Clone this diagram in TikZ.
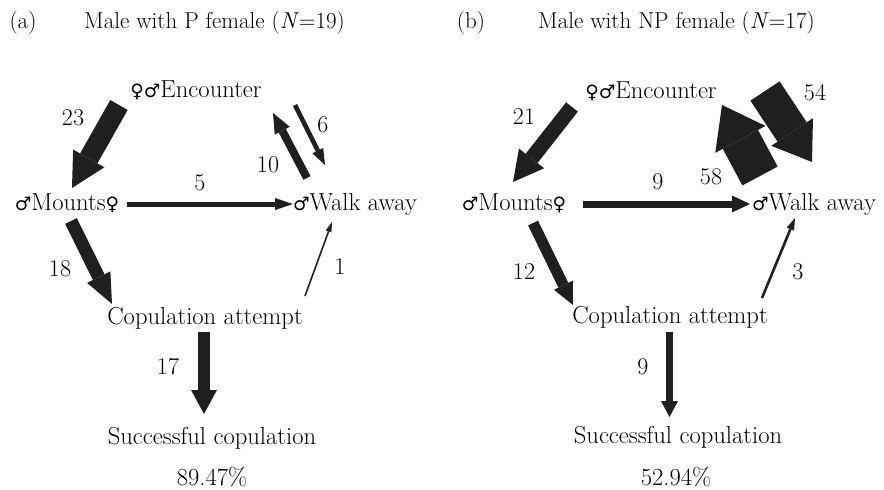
\documentclass[tikz,border=0pt]{standalone}
\usepackage{fontspec}
\newfontfamily\symfont{DejaVu Sans}
\usetikzlibrary{arrows.meta}
% sex symbols, set a little smaller than the text
\newcommand\fem{{\symfont\fontsize{18.5}{18.5}\selectfont ♀}}
\newcommand\mal{{\symfont\fontsize{18.5}{18.5}\selectfont ♂}}

\begin{document}
\begin{tikzpicture}[x=1pt,y=-1pt,
  lbl/.style={font=\fontsize{24.6}{28}\selectfont, inner sep=0pt, anchor=base},
  num/.style={font=\fontsize{24}{28}\selectfont, inner sep=0pt},
  hdr/.style={font=\fontsize{23}{26}\selectfont, inner sep=0pt, anchor=base west},
  tag/.style={font=\fontsize{23}{26}\selectfont, inner sep=0pt, anchor=base},
  flow/.style n args={3}{draw=black!88, line width=#1,
    -{Triangle[width=#2, length=#3, line width=0pt]}}
]
\useasboundingbox (0,0) rectangle (884,490);

% ---------------- panel (a) ----------------
\node[tag] (atag) at (23,28) {(a)};
\node[hdr] (ahdr) at (84,28) {Male with P female (\textit{N}=19)};

\node[lbl] (aenc)  at (196,97)  {\fem\mal Encounter};
\node[lbl] (amnt)  at (67,210)  {\mal Mounts\fem};
\node[lbl] (awalk) at (355,210) {\mal Walk away};
\node[lbl] (acop)  at (205,324) {Copulation attempt};
\node[lbl] (asuc)  at (212,444) {Successful copulation};
\node[lbl] (apct)  at (212,485) {89.47\%};

\coordinate (a-em-s) at (119,105);  \coordinate (a-em-e) at (72,188);
\coordinate (a-mc-s) at (71,221);   \coordinate (a-mc-e) at (112,304);
\coordinate (a-mw-s) at (127,204);  \coordinate (a-mw-e) at (293,204);
\coordinate (a-we-s) at (307,178);  \coordinate (a-we-e) at (273,113);
\coordinate (a-ew-s) at (295,105);  \coordinate (a-ew-e) at (325,165);
\coordinate (a-cw-s) at (305,296);  \coordinate (a-cw-e) at (332,222);
\coordinate (a-cs-s) at (204,332);  \coordinate (a-cs-e) at (204,414);

\draw[flow={20pt}{36pt}{34pt}] (a-em-s) -- (a-em-e);
\draw[flow={13pt}{26pt}{30pt}] (a-mc-s) -- (a-mc-e);
\draw[flow={5pt}{12pt}{18pt}]  (a-mw-s) -- (a-mw-e);
\draw[flow={8pt}{17pt}{20pt}]  (a-we-s) -- (a-we-e);
\draw[flow={4.5pt}{12pt}{16pt}] (a-ew-s) -- (a-ew-e);
\draw[flow={1.6pt}{6pt}{10pt}] (a-cw-s) -- (a-cw-e);
\draw[flow={12pt}{26pt}{24pt}] (a-cs-s) -- (a-cs-e);

\node[num] (n23) at (73,118)  {23};
\node[num] (n18) at (60,269)  {18};
\node[num] (n5)  at (200,183) {5};
\node[num] (n10) at (268,165) {10};
\node[num] (n6)  at (323,125) {6};
\node[num] (n1)  at (340,267) {1};
\node[num] (n17) at (168,367) {17};

% ---------------- panel (b) ----------------
\node[tag] (btag) at (471,28) {(b)};
\node[hdr] (bhdr) at (538,28) {Male with NP female (\textit{N}=17)};

\node[lbl] (benc)  at (651,98)  {\fem\mal Encounter};
\node[lbl] (bmnt)  at (514,210) {\mal Mounts\fem};
\node[lbl] (bwalk) at (814,210) {\mal Walk away};
\node[lbl] (bcop)  at (670,323) {Copulation attempt};
\node[lbl] (bsuc)  at (678,443) {Successful copulation};
\node[lbl] (bpct)  at (676,485) {52.94\%};

\coordinate (b-em-s) at (572,107);  \coordinate (b-em-e) at (513,182);
\coordinate (b-mc-s) at (533,223);  \coordinate (b-mc-e) at (573,305);
\coordinate (b-mw-s) at (583,204);  \coordinate (b-mw-e) at (750,204);
\coordinate (b-we-s) at (760,176);  \coordinate (b-we-e) at (722,105);
\coordinate (b-ew-s) at (765,91);   \coordinate (b-ew-e) at (812,162);
\coordinate (b-cw-s) at (762,298);  \coordinate (b-cw-e) at (795,218);
\coordinate (b-cs-s) at (669.5,332); \coordinate (b-cs-e) at (669.5,417);

\draw[flow={15pt}{32pt}{30pt}] (b-em-s) -- (b-em-e);
\draw[flow={11pt}{21pt}{22pt}] (b-mc-s) -- (b-mc-e);
\draw[flow={7pt}{17pt}{18pt}]  (b-mw-s) -- (b-mw-e);
\draw[flow={40pt}{57pt}{39pt}] (b-we-s) -- (b-we-e);
\draw[flow={35pt}{50pt}{36pt}] (b-ew-s) -- (b-ew-e);
\draw[flow={2.6pt}{8pt}{12pt}] (b-cw-s) -- (b-cw-e);
\draw[flow={7pt}{17pt}{16pt}]  (b-cs-s) -- (b-cs-e);

\node[num] (n21) at (524,117) {21};
\node[num] (n12) at (524,272) {12};
\node[num] (n9a) at (658,182) {9};
\node[num] (n58) at (711,177) {58};
\node[num] (n54) at (815,93)  {54};
\node[num] (n3)  at (798,272) {3};
\node[num] (n9b) at (643,367) {9};
\end{tikzpicture}
\end{document}
